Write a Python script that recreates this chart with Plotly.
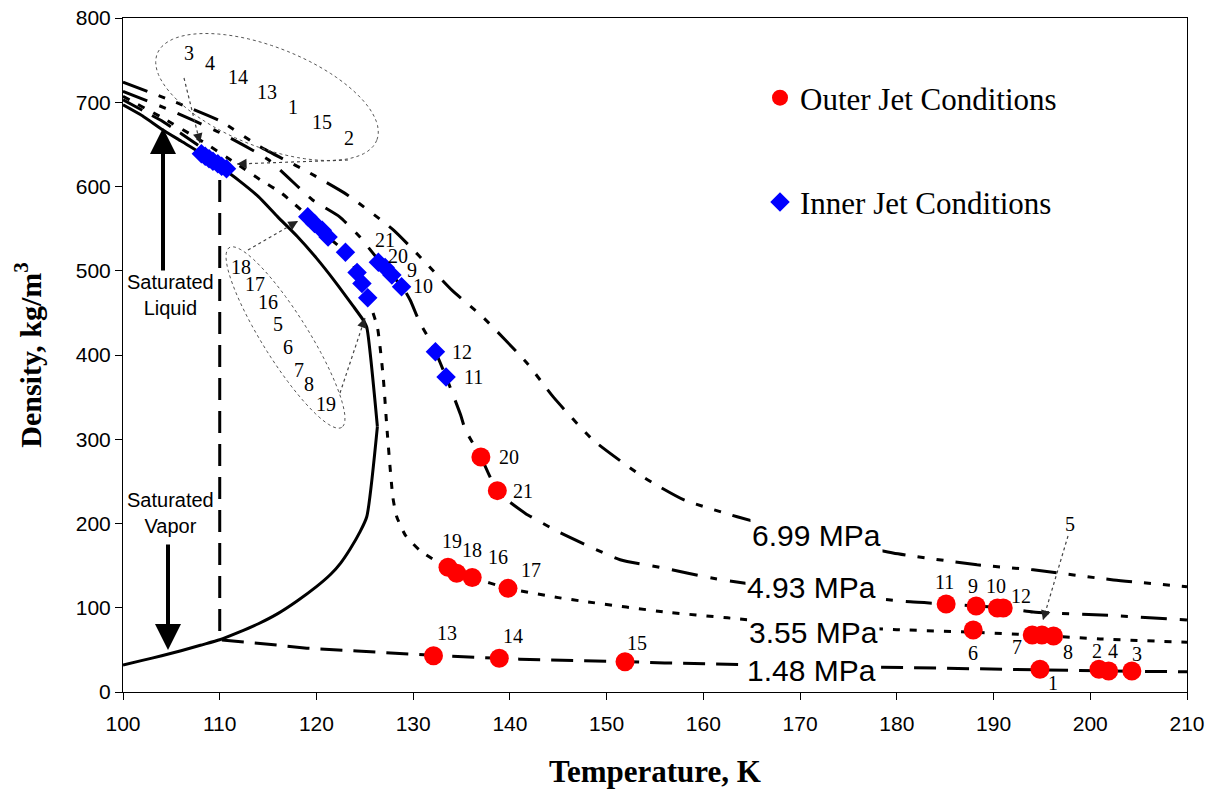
import numpy as np
import plotly.graph_objects as go

# ---------------- data ----------------
# saturated liquid branch (up to the critical point)
liq_T = [100, 102, 104, 106, 108, 110, 112, 114, 116, 118, 120, 122, 123.8, 124.8, 125.2, 126.3]
liq_rho = [697, 684, 668, 654, 640, 624, 607, 588, 564, 541, 515, 486, 458, 442, 433, 315]
# saturated vapour branch (from the critical point down)
vap_T = [126.3, 125.2, 124.5, 123.5, 122.5, 121.5, 120, 118, 116, 114, 112, 110, 108, 106,
         104, 102, 100]
vap_rho = [315, 208, 190, 170, 153, 140, 125, 108, 93, 81, 71, 62, 55.5, 49,
           43, 37.5, 32]

# isobars
p148_T = [100, 102, 104, 106, 108, 110, 110, 113.9, 119, 124.2, 128.3, 132, 139, 141, 152, 156,
          170, 182, 195, 200, 204.5, 210]
p148_rho = [703, 691, 678, 663, 647, 625, 62, 58, 52, 48.7, 46, 43.5, 40, 39, 36, 34.5,
            31, 28.5, 26.5, 25.5, 24.5, 24]

p355_T = [100, 104, 108, 112, 114.2, 116.4, 119.3, 121, 123, 124.2, 125.3, 126.3, 126.9, 127.3,
          127.9, 128.3, 129.2, 130.7, 133.6, 136.1, 139.8, 145, 148, 156, 162.5, 170, 180, 188,
          195, 201, 210]
p355_rho = [707, 682, 655, 625, 608, 592, 563, 542, 522, 498, 468, 433, 374, 311,
            231, 208, 186, 168, 147, 136, 123, 112, 107, 95, 88, 80, 74, 71,
            67, 63, 59]

p493_T = [100, 105, 110, 115, 119.6, 122.4, 124.5, 126.6, 127.9, 128.9, 129.7, 130.7, 131.7, 132.3,
          133.4, 134.9, 135.4, 137.0, 138.7, 139.7, 141.6, 145.2, 151.4, 155.5, 161, 170, 181.4,
          185.1, 188, 191, 194.1, 201.8, 210]
p493_rho = [713, 690, 664, 632, 584, 564, 540, 510, 493, 481, 465, 438, 418, 404,
            374, 329, 311, 279, 238, 228, 212, 189, 157, 148, 135, 120, 107,
            104.5, 102, 100, 95, 91, 85.5]

p699_T = [100, 105, 110, 114.2, 119, 123.2, 128, 131, 134, 137.2, 141.8, 144.5, 148.6, 153.8, 158,
          163.5, 170, 179.6, 188.3, 194.1, 202.4, 210]
p699_rho = [724, 702, 678, 647, 618, 590, 548, 513, 477, 445, 390, 350, 299, 255, 228,
            208, 188, 165, 151, 145, 133, 125]

isobar_names = ["1.48 MPa", "3.55 MPa", "4.93 MPa", "6.99 MPa"]

# outer jet conditions (case numbers 1..21)
outer_id = list(range(1, 22))
outer_T = [194.8, 200.9, 204.3, 201.9, 195.0, 187.9, 194.0, 196.2, 188.2, 190.4, 185.1, 191.0,
           132.1, 138.9, 151.9, 136.1, 139.8, 134.5, 133.6, 137.0, 138.7]
outer_rho = [27, 27, 25, 25, 67.7, 73.6, 67.7, 66.5, 102, 99.7, 104.5, 99.7,
             43, 40, 36, 136, 123, 141, 148, 279, 239]

# inner jet conditions
inner_id = [3, 4, 14, 13, 1, 15, 2, 18, 17, 16, 5, 6, 7, 8, 19, 21, 20, 9, 10, 12, 11]
inner_T = [108.1, 108.5, 108.9, 109.3, 109.8, 110.2, 110.7,
           119.1, 119.8, 120.6, 121.2, 123.0, 124.2, 124.7, 125.3,
           126.4, 127.1, 127.8, 128.8, 132.3, 133.4]
inner_rho = [639, 636, 633, 630, 627, 624, 621,
             564, 556, 548, 540, 522, 498, 485, 468,
             510, 504, 495, 481, 404, 374]

# ---------------- layout constants ----------------
# (the page body adds an 8 px margin, so the figure is 8 px smaller than the window)
BODY = 8
W, H = 1220 - BODY, 801 - BODY
ML, MR, MT, MB = 123 - BODY, 33, 18 - BODY, 109
PW, PH = W - ML - MR, H - MT - MB
XR, YR = [100, 210], [0, 800]


def px2data(px, py):
    """reference-picture pixel -> data coordinates (for decorations only)"""
    px -= BODY
    py -= BODY
    return (XR[0] + (px - ML) / PW * (XR[1] - XR[0]),
            YR[0] + (H - MB - py) / PH * (YR[1] - YR[0]))


def ellipse_path(cx, cy, a, b, deg, n=90):
    th = np.radians(deg)
    t = np.linspace(0, 2 * np.pi, n)
    xs = cx + a * np.cos(t) * np.cos(th) - b * np.sin(t) * np.sin(th)
    ys = cy + a * np.cos(t) * np.sin(th) + b * np.sin(t) * np.cos(th)
    pts = [px2data(x, y) for x, y in zip(xs, ys)]
    return "M " + " L ".join(f"{x:.3f},{y:.3f}" for x, y in pts) + " Z"


SERIF = "Liberation Serif, Times New Roman, serif"
SANS = "Liberation Sans, Arial, sans-serif"

fig = go.Figure()

line_w = 3
fig.add_trace(go.Scatter(x=liq_T, y=liq_rho, mode="lines", showlegend=False,
                         line=dict(color="black", width=line_w, shape="spline", smoothing=0.5)))
fig.add_trace(go.Scatter(x=vap_T, y=vap_rho, mode="lines", showlegend=False,
                         line=dict(color="black", width=line_w, shape="spline", smoothing=0.6)))
iso_sets = [(p148_T, p148_rho, "22px,11px", "linear"),
            (p355_T, p355_rho, "7px,10px", "spline"),
            (p493_T, p493_rho, "26px,13px,7px,13px", "spline"),
            (p699_T, p699_rho, "26px,12px,7px,12px,7px,12px", "spline")]
for (tx, ty, dash, shp), nm in zip(iso_sets, isobar_names):
    fig.add_trace(go.Scatter(x=tx, y=ty, mode="lines", name=nm, showlegend=False,
                             line=dict(color="black", width=line_w, dash=dash, shape=shp,
                                       smoothing=0.5)))

fig.add_trace(go.Scatter(x=outer_T, y=outer_rho, mode="markers", name="Outer Jet Conditions",
                         legendgroup="o",
                         marker=dict(symbol="circle", size=19, color="#FF0000",
                                     line=dict(width=0))))
fig.add_trace(go.Scatter(x=inner_T, y=inner_rho, mode="markers", name="Inner Jet Conditions",
                         legendgroup="i",
                         marker=dict(symbol="diamond", size=15, color="#0000FF",
                                     line=dict(width=0))))

ann = []
lab_font = dict(family=SERIF, size=20, color="black")

# outer point labels (pixel offsets from the marker)
outer_shift = {1: (13, -14), 2: (-2, 18), 3: (5, 17), 4: (4, 20), 6: (0, -23), 7: (-15, -12),
               8: (14, -16), 9: (-3, 20), 10: (-1, 22), 11: (-2, 22), 12: (18, 12),
               13: (14, 23), 14: (14, 22), 15: (12, 19), 16: (26, 20), 17: (23, 18),
               18: (15, 23), 19: (4, 26), 20: (28, 0), 21: (26, 0)}
for i, t, r in zip(outer_id, outer_T, outer_rho):
    if i in outer_shift:
        dx, dy = outer_shift[i]
        ann.append(dict(x=t, y=r, text=str(i), showarrow=False, xshift=dx, yshift=dy,
                        font=lab_font))

inner_shift = {21: (7, 22), 20: (13, 11), 9: (20, 5), 10: (21, 1), 12: (27, 0), 11: (27, 0)}
for i, t, r in zip(inner_id, inner_T, inner_rho):
    if i in inner_shift:
        dx, dy = inner_shift[i]
        ann.append(dict(x=t, y=r, text=str(i), showarrow=False, xshift=dx, yshift=dy,
                        font=lab_font))

# grouped inner labels inside the dotted ellipses (pixel placement)
group_top = [("3", 189, 53), ("4", 210, 63), ("14", 238, 77), ("13", 267, 92),
             ("1", 293, 107), ("15", 322, 122), ("2", 349, 138)]
group_mid = [("18", 241, 267), ("17", 255, 284), ("16", 268, 302), ("5", 278, 324),
             ("6", 288, 347), ("7", 299, 370), ("8", 309, 384), ("19", 326, 404)]
for txt, px, py in group_top + group_mid + [("5", 1070, 524)]:
    x, y = px2data(px, py)
    ann.append(dict(x=x, y=y, text=txt, showarrow=False, font=lab_font))

shapes = []
for (cx, cy, a, b, deg) in [(267, 97, 118, 50, 21.5), (285.5, 337.5, 106, 23, 58)]:
    shapes.append(dict(type="path", path=ellipse_path(cx, cy, a, b, deg), xref="x", yref="y",
                       line=dict(color="#555555", width=1, dash="dot")))

# dotted leaders with arrowheads (tail px, head px)
leaders = [((184, 78), (200, 143)), ((348, 160), (237, 164)),
           ((248, 250), (298, 221)), ((340, 393), (365, 318)),
           ((1068, 536), (1043, 620))]
for (tx, ty), (hx, hy) in leaders:
    x0, y0 = px2data(tx, ty)
    x1, y1 = px2data(hx, hy)
    shapes.append(dict(type="line", x0=x0, y0=y0, x1=x1, y1=y1, xref="x", yref="y",
                       line=dict(color="#444444", width=1.2, dash="dot")))
    L = np.hypot(hx - tx, hy - ty)
    ux, uy = (hx - tx) / L, (hy - ty) / L
    ann.append(dict(x=x1, y=y1, ax=-ux * 9, ay=-uy * 9, text="", showarrow=True,
                    arrowhead=2, arrowsize=1.6, arrowwidth=1.2, arrowcolor="#222222"))

# saturated liquid / vapour callouts
sat_font = dict(family=SANS, size=20, color="black")
x, y = px2data(170, 295)
ann.append(dict(x=x, y=y, text="Saturated<br>Liquid", showarrow=False, font=sat_font))
x, y = px2data(170, 513)
ann.append(dict(x=x, y=y, text="Saturated<br>Vapor", showarrow=False, font=sat_font))
for (tx, ty), (hx, hy) in [((163, 272), (163, 128)), ((168, 543), (168, 650))]:
    x0, y0 = px2data(tx, ty)
    x1, y1 = px2data(hx, hy)
    ann.append(dict(x=x1, y=y1, ax=x0, ay=y0, axref="x", ayref="y", text="", showarrow=True,
                    arrowhead=2, arrowsize=1.3, arrowwidth=4, arrowcolor="black"))

# isobar labels
iso_lab_pos = [(811, 670), (813, 632), (811, 587), (816, 535)]
for nm, (px, py) in zip(isobar_names, iso_lab_pos):
    x, y = px2data(px, py)
    ann.append(dict(x=x, y=y, text=nm, showarrow=False, bgcolor="white", borderpad=1,
                    font=dict(family=SANS, size=30, color="black")))

fig.update_layout(
    width=W, height=H,
    margin=dict(l=ML, r=MR, t=MT, b=MB, autoexpand=False),
    paper_bgcolor="white", plot_bgcolor="white",
    annotations=ann, shapes=shapes,
    legend=dict(x=(760 - BODY - ML) / PW, y=(H - MB - (71 - BODY)) / PH,
                xanchor="left", yanchor="top",
                font=dict(family=SERIF, size=31, color="black"), tracegroupgap=61,
                bgcolor="rgba(0,0,0,0)", itemsizing="trace"),
)
fig.update_xaxes(range=XR, dtick=10, tick0=100, showgrid=False, zeroline=False,
                 showline=True, linecolor="black", linewidth=1, mirror=True, automargin=False,
                 ticks="outside", ticklen=7, tickcolor="black", ticklabelstandoff=6,
                 ticklabeloverflow="allow",
                 tickfont=dict(family=SANS, size=21, color="black"),
                 title=dict(text="<b>Temperature, K</b>", standoff=26,
                            font=dict(family=SERIF, size=31, color="black")))
fig.update_yaxes(range=YR, dtick=100, tick0=0, showgrid=False, zeroline=False,
                 showline=True, linecolor="black", linewidth=1, mirror=True, automargin=False,
                 ticks="outside", ticklen=7, tickcolor="black", ticklabeloverflow="allow",
                 tickfont=dict(family=SANS, size=21, color="black"),
                 title=dict(text="<b>Density, kg/m<sup>3</sup></b>", standoff=25,
                            font=dict(family=SERIF, size=30, color="black")))

fig.write_html("out.html")
